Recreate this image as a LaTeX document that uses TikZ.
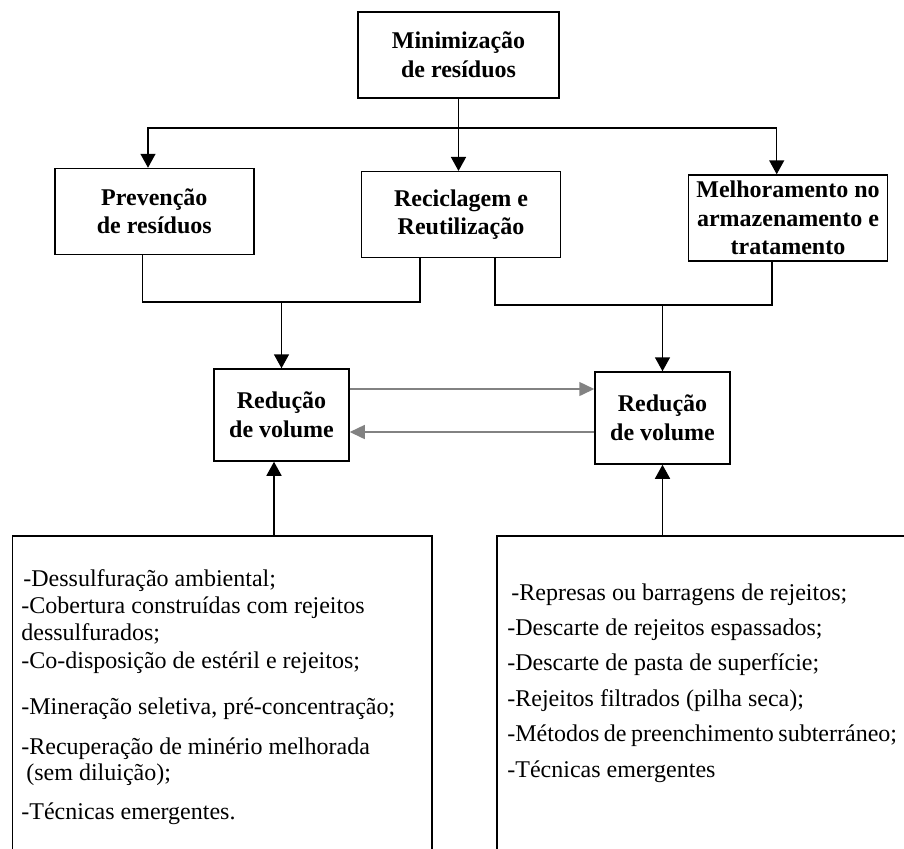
\documentclass[tikz,border=0pt]{standalone}
\usepackage{fontspec}
\setmainfont{Liberation Serif}
\usetikzlibrary{positioning,arrows.meta}
\definecolor{backgray}{RGB}{130,130,130}
\tikzset{
x=0.5pt,y=-0.5pt,
>={Triangle[length=7pt,width=7.5pt]},
box/.style={draw,line width=0.75pt,inner sep=0pt,align=center,font=\fontsize{12}{14.25}\selectfont\bfseries,minimum width=99.5pt,minimum height=43pt},
volbox/.style={box,minimum width=67.5pt,minimum height=46pt},
listbox/.style={draw,line width=0.75pt,inner sep=0pt,anchor=north west},
item/.style={anchor=base west,inner sep=0pt,font=\fontsize{12}{14}\selectfont},
link/.style={line width=0.75pt},
back/.style={line width=0.75pt,draw=backgray,-{Triangle[length=7.5pt,width=7pt]}}
}

\begin{document}
\begin{tikzpicture}
\useasboundingbox (0,0) rectangle (904,848);
\clip (0,0) rectangle (904,848);

\node[box,minimum width=100.5pt] (mini) at (458.5,55) {Minimização\\de resíduos};
\node[box] (prev) at (154.3,211.5) {Prevenção\\de resíduos};
\node[box] (recic) at (461,214.7) {Reciclagem e\\Reutilização};
\node[box] (melh) at (788,218) {Melhoramento no\\armazenamento e\\tratamento};
\node[volbox] (volL) at (281.5,415) {Redução\\de volume};
\node[volbox] (volR) at (662.5,418) {Redução\\de volume};
\node[listbox,minimum width=209.75pt,minimum height=170pt] (listL) at (11.5,535) {};
\node[listbox,minimum width=225pt,minimum height=170pt] (listR) at (496,535) {};

% lists
\foreach \y/\txt [count=\i] in {586/{\hspace*{1pt}-Dessulfuração ambiental;},
    613/{-Cobertura construídas com rejeitos},
    640/{dessulfurados;},
    668/{-Co-disposição de estéril e rejeitos;},
    714/{-Mineração seletiva, pré-concentração;},
    754/{-Recuperação de minério melhorada},
    780/{\hspace*{2.5pt}(sem diluição);},
    819/{-Técnicas emergentes.}}
  \node[item] (itemL\i) at (21,\y) {\txt};
\foreach \y/\txt [count=\i] in {600/{\hspace*{2pt}-Represas ou barragens de rejeitos;},
    635.4/{-Descarte de rejeitos espassados;},
    670.8/{-Descarte de pasta de superfície;},
    706.2/{-Rejeitos filtrados (pilha seca);},
    741.6/{\spaceskip=2.3pt plus 1pt -Métodos de preenchimento subterráneo;},
    777/{-Técnicas emergentes}}
  \node[item] (itemR\i) at (507,\y) {\txt};

% top fork
\coordinate (fork) at (mini.south |- 0,128);
\draw[link,->] (mini) -- (mini |- recic.north);
\draw[link,->] (fork) -| ([xshift=-3.15pt]prev.north);
\draw[link,->] (fork) -| ([xshift=-5.65pt]melh.north);

% joins
\coordinate (joinL) at (volL.north |- 0,302);
\draw[link] ([xshift=-6pt]prev.south) |- (joinL) -| ([xshift=-20.5pt]recic.south);
\draw[link,->] (joinL) -- (volL);
\coordinate (joinR) at (volR.north |- 0,305);
\draw[link] ([xshift=17pt]recic.south) |- (joinR) -| ([xshift=-8pt]melh.south);
\draw[link,->] (joinR) -- (volR);

% between the two
\coordinate (gA) at ([yshift=13pt]volL.east);
\coordinate (gB) at ([yshift=-7pt]volR.west);
\draw[back] (gA) -- (gA -| volR.west);
\draw[back] (gB) -- (gB -| volL.east);

% from the lists
\coordinate (upL) at ([xshift=-3.75pt]volL.south);
\draw[link,->] (upL |- listL.north) -- (upL);
\draw[link,->] (volR.south |- listR.north) -- (volR);
\end{tikzpicture}
\end{document}
